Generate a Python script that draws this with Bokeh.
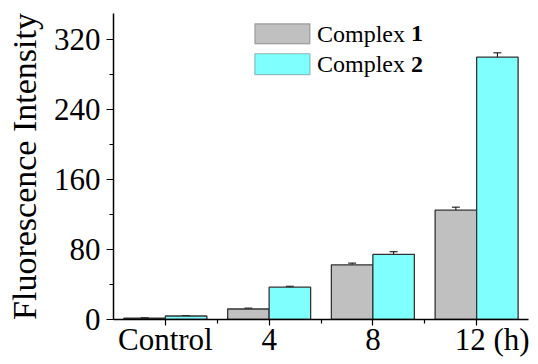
from bokeh.plotting import figure
from bokeh.models import ColumnDataSource, FixedTicker, Whisker, BoxAnnotation, Label
from bokeh.embed import file_html
from bokeh.resources import INLINE

categories = ["Control", "4", "8", "\u00a0\u00a0\u00a0\u00a012 (h)"]
complex1 = [1.5, 12, 62.5, 125]
complex1_err = [0.5, 1, 2, 3.5]
complex2 = [4, 37, 74.5, 300]
complex2_err = [0.5, 1, 3, 5]
y_ticks = [0, 80, 160, 240, 320]

FONT = "Liberation Serif"
pos = [1, 2, 3, 4]
w = 0.4

p = figure(width=538, height=364, output_backend="svg", toolbar_location=None,
           x_range=(0.5, 4.5), y_range=(0, 350),
           min_border_left=113, min_border_right=10, min_border_top=13, min_border_bottom=45)
p.outline_line_color = None
p.xgrid.grid_line_color = None
p.ygrid.grid_line_color = None
p.background_fill_color = "white"
p.border_fill_color = "white"

s1 = ColumnDataSource(dict(x=[c - w / 2 for c in pos], top=complex1,
                           upper=[v + e for v, e in zip(complex1, complex1_err)],
                           lower=[v - e for v, e in zip(complex1, complex1_err)]))
s2 = ColumnDataSource(dict(x=[c + w / 2 for c in pos], top=complex2,
                           upper=[v + e for v, e in zip(complex2, complex2_err)],
                           lower=[v - e for v, e in zip(complex2, complex2_err)]))

p.vbar(x="x", top="top", bottom=0, width=w, source=s1, fill_color="#C0C0C0",
       line_color="#333333", line_width=1.3)
p.vbar(x="x", top="top", bottom=0, width=w, source=s2, fill_color="#80FFFF",
       line_color="#333333", line_width=1.3)
for s in (s1, s2):
    wk = Whisker(base="x", upper="upper", lower="lower", source=s, line_color="black", line_width=1)
    wk.upper_head.size = 8
    wk.lower_head.size = 8
    wk.upper_head.line_color = "black"
    wk.lower_head.line_color = "black"
    p.add_layout(wk)

for axs in (p.xaxis, p.yaxis):
    axs.axis_line_color = "black"
    axs.axis_line_width = 1.5
    axs.major_tick_line_color = "black"
    axs.minor_tick_line_color = "black"
    axs.major_tick_line_width = 1.2
    axs.minor_tick_line_width = 1.2
    axs.major_tick_in = 0
    axs.minor_tick_out = 4
    axs.minor_tick_in = 0
    axs.major_label_text_font = FONT
    axs.major_label_text_font_size = "31px"
    axs.major_label_text_color = "black"

p.yaxis.major_tick_out = 7
p.yaxis.ticker = FixedTicker(ticks=y_ticks, minor_ticks=[40, 120, 200, 280])
p.yaxis.major_label_standoff = 6
p.yaxis.axis_label = "Fluorescence Intensity"
p.yaxis.axis_label_text_font = FONT
p.yaxis.axis_label_text_font_size = "34px"
p.yaxis.axis_label_text_font_style = "normal"
p.yaxis.axis_label_text_color = "black"
p.yaxis.axis_label_standoff = 8

p.xaxis.major_tick_out = 6
p.xaxis.ticker = FixedTicker(ticks=pos, minor_ticks=[1.5, 2.5, 3.5])
p.xaxis.major_label_overrides = {c: lab for c, lab in zip(pos, categories)}
p.xaxis.major_label_standoff = -4

p.add_layout(BoxAnnotation(left=1.862, right=2.394, bottom=315.4, top=338.3,
                           fill_color="#C0C0C0", fill_alpha=1, line_color="#333333", line_width=1.3))
p.add_layout(BoxAnnotation(left=1.862, right=2.394, bottom=280, top=304,
                           fill_color="#80FFFF", fill_alpha=1, line_color="#333333", line_width=1.3))
for ytxt, num in ((327, "1"), (292, "2")):
    p.add_layout(Label(x=2.461, y=ytxt, text="Complex", text_font=FONT, text_font_size="24px",
                       text_color="black", text_baseline="middle", text_align="left"))
    p.add_layout(Label(x=2.461, y=ytxt, x_offset=94, text=num, text_font=FONT, text_font_size="24px",
                       text_font_style="bold", text_color="black", text_baseline="middle",
                       text_align="left"))

open("out.html", "w").write(file_html(p, INLINE))
